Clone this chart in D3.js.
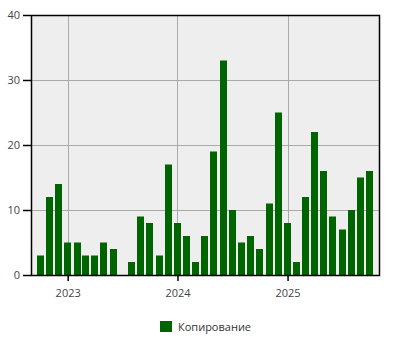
<!DOCTYPE html>
<html>
<head>
<meta charset="utf-8">
<script src="https://cdn.jsdelivr.net/npm/d3@7"></script>
<style>
  body { margin: 0; background: #fff; }
  text { font-family: "Open Sans", sans-serif; }
</style>
</head>
<body>
<div id="chart"></div>
<script>
// monthly values, Oct 2022 .. Oct 2025
var firstMonth = "2022-10";
var values = [3, 12, 14, 5, 5, 3, 3, 5, 4, 0, 2, 9, 8, 3, 17,
  8, 6, 2, 6, 19, 33, 10, 5, 6, 4, 11, 25,
  8, 2, 12, 22, 16, 9, 7, 10, 15, 16];
var yTicks = [0, 10, 20, 30, 40];
var xTicks = ["2023", "2024", "2025"];
var seriesName = "Копирование";

var margin = { top: 15, right: 21, bottom: 75, left: 31 },
  width = 400 - margin.left - margin.right,
  height = 350 - margin.top - margin.bottom;

var parseMonth = d3.timeParse("%Y-%m");
var start = parseMonth(firstMonth);
var data = values.map(function (v, i) {
  return { date: d3.timeMonth.offset(start, i), value: v };
});

var svg = d3
  .select("#chart")
  .append("svg")
  .attr("width", 400)
  .attr("height", 350)
  .append("g")
  .attr("transform", "translate(" + margin.left + "," + margin.top + ")");

var x = d3
  .scaleTime()
  .domain([parseMonth("2022-09"), parseMonth("2025-11")])
  .range([0, width]);
var y = d3.scaleLinear().domain([0, 40]).range([height, 0]);

// background
svg.append("rect")
  .attr("width", width)
  .attr("height", height)
  .style("fill", "#eeeeee");

// grid
svg.selectAll("hgrid")
  .data(yTicks)
  .enter()
  .append("line")
  .attr("x1", 0)
  .attr("x2", width)
  .attr("y1", function (d) { return Math.round(y(d)) + 0.5; })
  .attr("y2", function (d) { return Math.round(y(d)) + 0.5; })
  .style("stroke", "#aaaaaa");

var yearDates = xTicks.map(function (t) { return d3.timeParse("%Y")(t); });
svg.selectAll("vgrid")
  .data(yearDates)
  .enter()
  .append("line")
  .attr("x1", function (d) { return Math.round(x(d)) + 0.5; })
  .attr("x2", function (d) { return Math.round(x(d)) + 0.5; })
  .attr("y1", 0)
  .attr("y2", height)
  .style("stroke", "#aaaaaa");

// bars
var barW = 7;
svg.selectAll("bar")
  .data(data)
  .enter()
  .append("rect")
  .attr("x", function (d) { return Math.round(x(d.date) - barW / 2); })
  .attr("width", barW)
  .attr("y", function (d) { return y(d.value); })
  .attr("height", function (d) { return height - y(d.value); })
  .style("fill", "#006400");

// frame
svg.append("rect")
  .attr("x", 0.5)
  .attr("y", 0.5)
  .attr("width", width)
  .attr("height", height)
  .style("fill", "none")
  .style("stroke", "#000")
  .style("stroke-width", 1.5);

// axes
var yAxis = svg.append("g")
  .call(d3.axisLeft(y).tickValues(yTicks).tickSize(8).tickPadding(3));
var xAxis = svg.append("g")
  .attr("transform", "translate(0," + height + ")")
  .call(d3.axisBottom(x).tickValues(yearDates).tickFormat(d3.timeFormat("%Y")).tickSize(6).tickPadding(8));

[yAxis, xAxis].forEach(function (a) {
  a.select(".domain").remove();
  a.selectAll("line").style("stroke", "#000").style("stroke-width", 1.5);
  a.selectAll("text").style("font-size", "11px").style("fill", "#444");
});

// legend
var legend = svg.append("g")
  .attr("transform", "translate(" + (160 - margin.left) + "," + (321 - margin.top) + ")");
legend.append("rect")
  .attr("width", 12)
  .attr("height", 11)
  .style("fill", "#006400");
legend.append("text")
  .attr("x", 18)
  .attr("y", 6)
  .attr("dy", "0.35em")
  .style("font-size", "11px")
  .style("fill", "#333")
  .text(seriesName);
</script>
</body>
</html>
